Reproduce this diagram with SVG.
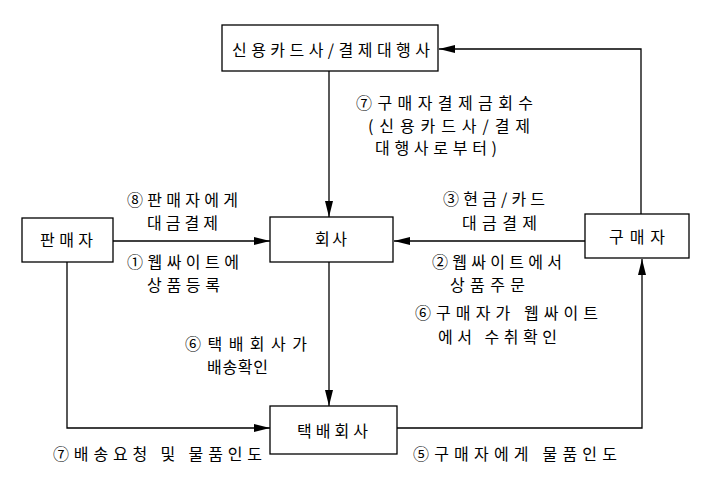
<svg xmlns="http://www.w3.org/2000/svg" width="715" height="482" viewBox="0 0 715 482">
<defs>
<style>
.box{fill:#fff;stroke:#000;stroke-width:1.3}
.ln{fill:none;stroke:#000;stroke-width:1.3}
text{font-family:"Noto Sans CJK KR","Noto Sans",sans-serif;font-size:16px;fill:#000}
</style>
<marker id="ah" viewBox="0 0 16 10" refX="16" refY="5" markerWidth="16" markerHeight="10" markerUnits="userSpaceOnUse" orient="auto">
<path d="M0,1 L16,5 L0,9 Z" fill="#000"/>
</marker>
</defs>
<rect width="715" height="482" fill="#fff"/>
<g id="connectors">
<path class="ln" d="M329,71 V217" marker-end="url(#ah)"/>
<path class="ln" d="M113,241 H270" marker-end="url(#ah)"/>
<path class="ln" d="M585,241 H394" marker-end="url(#ah)"/>
<path class="ln" d="M329,262 V406" marker-end="url(#ah)"/>
<path class="ln" d="M67,262 V428 H270" marker-end="url(#ah)"/>
<path class="ln" d="M397,428 H642 V259" marker-end="url(#ah)"/>
<path class="ln" d="M641,214 V49 H439" marker-end="url(#ah)"/>
</g>
<g id="labels">
<text x="356" y="109" textLength="177" lengthAdjust="spacing">⑦구매자결제금회수</text>
<text x="368" y="132" textLength="162" lengthAdjust="spacing">(신용카드사/결제</text>
<text x="375" y="154" textLength="122" lengthAdjust="spacing">대행사로부터)</text>
<text x="127" y="206" textLength="111" lengthAdjust="spacing">⑧판매자에게</text>
<text x="147" y="229" textLength="71" lengthAdjust="spacing">대금결제</text>
<text x="127" y="268" textLength="112" lengthAdjust="spacing">①웹싸이트에</text>
<text x="147" y="291" textLength="73" lengthAdjust="spacing">상품등록</text>
<text x="443" y="205" textLength="102" lengthAdjust="spacing">③현금/카드</text>
<text x="462" y="229" textLength="75" lengthAdjust="spacing">대금결제</text>
<text x="432" y="268" textLength="130" lengthAdjust="spacing">②웹싸이트에서</text>
<text x="450" y="291" textLength="75" lengthAdjust="spacing">상품주문</text>
<text x="415" y="319" textLength="183" lengthAdjust="spacing">⑥구매자가  웹싸이트</text>
<text x="438" y="343" textLength="119" lengthAdjust="spacing">에서 수취확인</text>
<text x="185" y="350" textLength="122" lengthAdjust="spacing">⑥택배회사가</text>
<text x="207" y="373" textLength="61" lengthAdjust="spacing">배송확인</text>
<text x="53" y="460" textLength="209" lengthAdjust="spacing">⑦배송요청 및 물품인도</text>
<text x="413" y="460" textLength="204" lengthAdjust="spacing">⑤구매자에게 물품인도</text>
</g>
<g id="card">
<rect class="box" x="222" y="25" width="216" height="46"/>
<text x="232" y="56" textLength="198" lengthAdjust="spacing">신용카드사/결제대행사</text>
</g>
<g id="seller">
<rect class="box" x="22" y="218" width="91" height="44"/>
<text x="40" y="246" textLength="53" lengthAdjust="spacing">판매자</text>
</g>
<g id="company">
<rect class="box" x="270" y="217" width="123" height="45"/>
<text x="315" y="245" textLength="32" lengthAdjust="spacing">회사</text>
</g>
<g id="buyer">
<rect class="box" x="585" y="214" width="104" height="44"/>
<text x="609" y="243" textLength="56" lengthAdjust="spacing">구매자</text>
</g>
<g id="courier">
<rect class="box" x="270" y="406" width="127" height="48"/>
<text x="297" y="437" textLength="71" lengthAdjust="spacing">택배회사</text>
</g>
</svg>
